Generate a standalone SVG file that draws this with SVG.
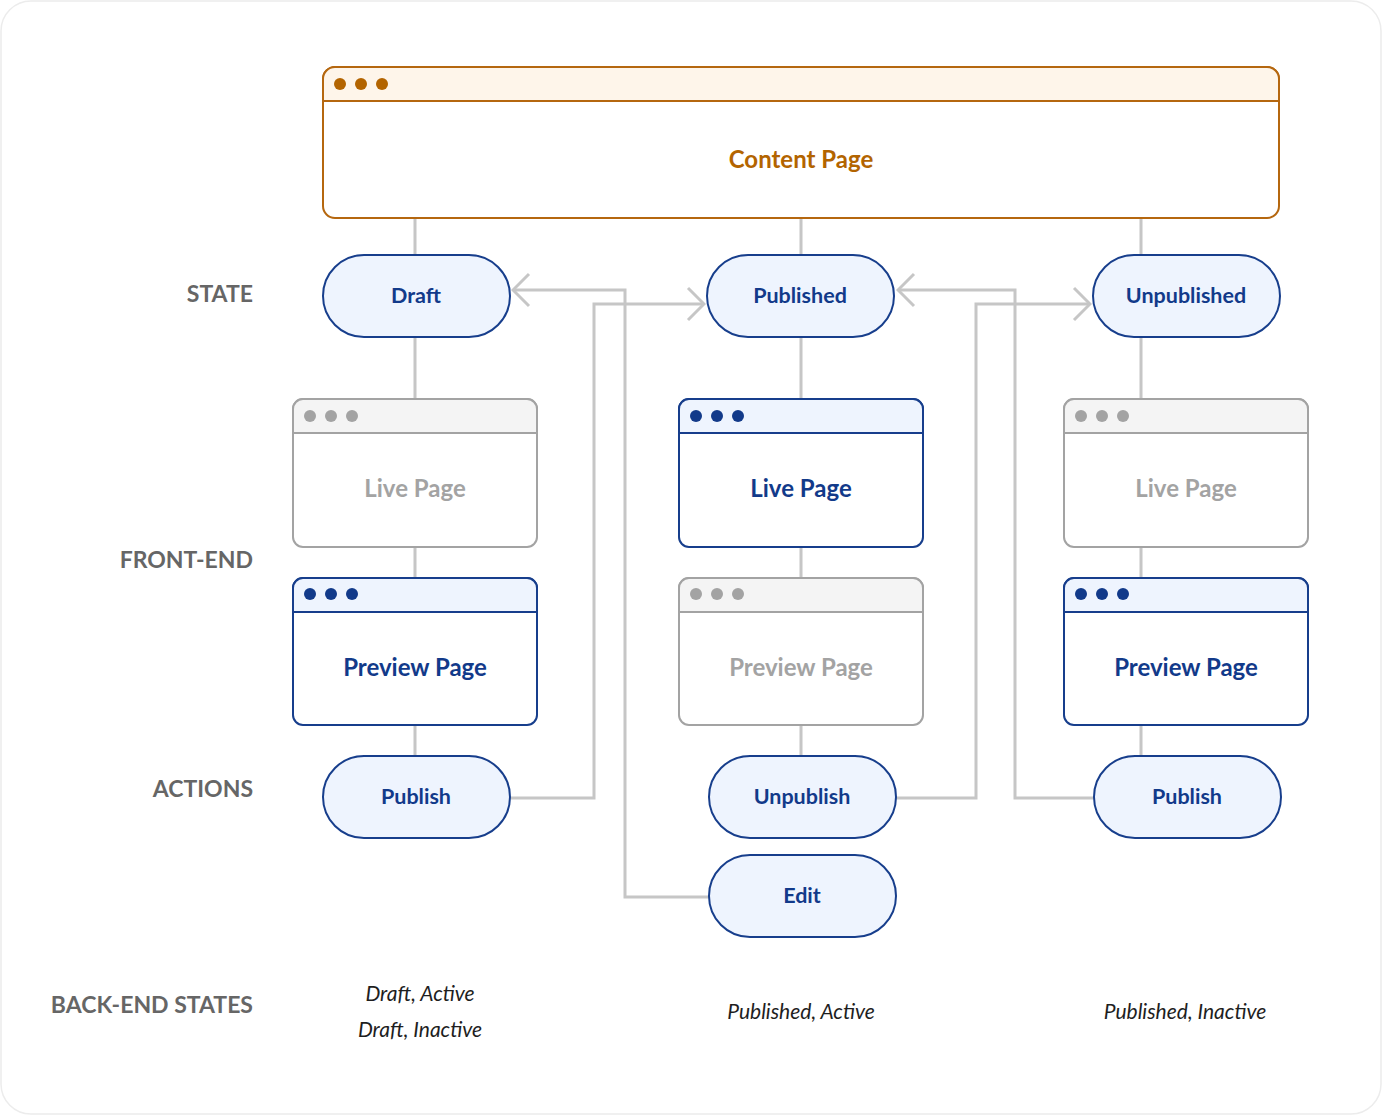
<svg xmlns="http://www.w3.org/2000/svg" width="1382" height="1115" viewBox="0 0 1382 1115">
  <style>
    .bg { fill: #ffffff; stroke: #ececec; stroke-width: 1.5; }
    .wire { fill: none; stroke: #c6c6c6; stroke-width: 3; }
    .pill { fill: #eef4fe; stroke: #173e8c; stroke-width: 2; }
    .pill-t { font-family: Lato, "Open Sans", sans-serif; font-weight: 700; font-size: 21.5px; fill: #123a8a; text-anchor: middle; }
    .win-on { fill: #ffffff; stroke: #173e8c; stroke-width: 2; }
    .bar-on { fill: #eef4fe; stroke: #173e8c; stroke-width: 2; }
    .dot-on { fill: #123a8a; }
    .win-off { fill: #ffffff; stroke: #a3a3a3; stroke-width: 2; }
    .bar-off { fill: #f4f4f4; stroke: #a3a3a3; stroke-width: 2; }
    .dot-off { fill: #a3a3a3; }
    .win-t-on { font-family: Lato, "Open Sans", sans-serif; font-weight: 700; font-size: 24px; fill: #123a8a; text-anchor: middle; }
    .win-t-off { font-family: Lato, "Open Sans", sans-serif; font-weight: 700; font-size: 24px; fill: #a3a3a3; text-anchor: middle; }
    .row { font-family: Lato, "Open Sans", sans-serif; font-weight: 700; font-size: 23px; fill: #666666; text-anchor: end; }
    .be { font-family: Lato, "Open Sans", sans-serif; font-style: italic; font-size: 21px; fill: #1e1e1e; text-anchor: middle; }
  </style>
  <defs>
    <!-- open chevron arrowhead -->
    <marker id="chev" viewBox="0 0 20 36" refX="18" refY="18" markerWidth="20" markerHeight="36" markerUnits="userSpaceOnUse" orient="auto">
      <path d="M2 2 L18 18 L2 34" fill="none" stroke="#c6c6c6" stroke-width="3"/>
    </marker>
  </defs>

  <rect class="bg" x="1" y="1" width="1380" height="1113" rx="30"/>

  <!-- row labels -->
  <text class="row" x="253" y="302">STATE</text>
  <text class="row" x="253" y="568">FRONT-END</text>
  <text class="row" x="253" y="797">ACTIONS</text>
  <text class="row" x="253" y="1013">BACK-END STATES</text>

  <!-- connectors -->
  <g id="connectors">
    <!-- tree links -->
    <path class="wire" d="M415 218 V255 M801 218 V255 M1141 218 V255"/>
    <path class="wire" d="M415 337 V399 M801 337 V399 M1141 337 V399"/>
    <path class="wire" d="M415 547 V578 M801 547 V578 M1141 547 V578"/>
    <path class="wire" d="M415 725 V756 M801 725 V756 M1141 725 V756"/>
    <!-- transitions -->
    <path class="wire" d="M510 798 H594 V304 H704" marker-end="url(#chev)"/>
    <path class="wire" d="M709 897 H625 V290 H513" marker-end="url(#chev)"/>
    <path class="wire" d="M896 798 H976 V304 H1090" marker-end="url(#chev)"/>
    <path class="wire" d="M1094 798 H1015 V290 H898" marker-end="url(#chev)"/>
  </g>

  <!-- content page window -->
  <g id="content-page">
    <rect x="323" y="67" width="956" height="151" rx="12" fill="#ffffff" stroke="#b5670f" stroke-width="2"/>
    <path d="M323 101 V79 A12 12 0 0 1 335 67 H1267 A12 12 0 0 1 1279 79 V101 Z" fill="#fef5ea" stroke="#b5670f" stroke-width="2"/>
    <circle cx="340" cy="84" r="6" fill="#b36400"/>
    <circle cx="361" cy="84" r="6" fill="#b36400"/>
    <circle cx="382" cy="84" r="6" fill="#b36400"/>
    <text x="801" y="168" font-family="Lato, 'Open Sans', sans-serif" font-weight="700" font-size="24" fill="#b36400" text-anchor="middle">Content Page</text>
  </g>

  <!-- state pills -->
  <g id="state-draft">
    <rect class="pill" x="323" y="255" width="187" height="82" rx="41"/>
    <text class="pill-t" x="416" y="303">Draft</text>
  </g>
  <g id="state-published">
    <rect class="pill" x="707" y="255" width="187" height="82" rx="41"/>
    <text class="pill-t" x="800" y="303">Published</text>
  </g>
  <g id="state-unpublished">
    <rect class="pill" x="1093" y="255" width="187" height="82" rx="41"/>
    <text class="pill-t" x="1186" y="303">Unpublished</text>
  </g>

  <!-- live pages -->
  <g id="live-draft">
    <rect class="win-off" x="293" y="399" width="244" height="148" rx="10"/>
    <path class="bar-off" d="M293 433 V409 A10 10 0 0 1 303 399 H527 A10 10 0 0 1 537 409 V433 Z"/>
    <circle class="dot-off" cx="310" cy="416" r="6"/>
    <circle class="dot-off" cx="331" cy="416" r="6"/>
    <circle class="dot-off" cx="352" cy="416" r="6"/>
    <text class="win-t-off" x="415" y="497">Live Page</text>
  </g>
  <g id="live-published">
    <rect class="win-on" x="679" y="399" width="244" height="148" rx="10"/>
    <path class="bar-on" d="M679 433 V409 A10 10 0 0 1 689 399 H913 A10 10 0 0 1 923 409 V433 Z"/>
    <circle class="dot-on" cx="696" cy="416" r="6"/>
    <circle class="dot-on" cx="717" cy="416" r="6"/>
    <circle class="dot-on" cx="738" cy="416" r="6"/>
    <text class="win-t-on" x="801" y="497">Live Page</text>
  </g>
  <g id="live-unpublished">
    <rect class="win-off" x="1064" y="399" width="244" height="148" rx="10"/>
    <path class="bar-off" d="M1064 433 V409 A10 10 0 0 1 1074 399 H1298 A10 10 0 0 1 1308 409 V433 Z"/>
    <circle class="dot-off" cx="1081" cy="416" r="6"/>
    <circle class="dot-off" cx="1102" cy="416" r="6"/>
    <circle class="dot-off" cx="1123" cy="416" r="6"/>
    <text class="win-t-off" x="1186" y="497">Live Page</text>
  </g>

  <!-- preview pages -->
  <g id="preview-draft">
    <rect class="win-on" x="293" y="578" width="244" height="147" rx="10"/>
    <path class="bar-on" d="M293 612 V588 A10 10 0 0 1 303 578 H527 A10 10 0 0 1 537 588 V612 Z"/>
    <circle class="dot-on" cx="310" cy="594" r="6"/>
    <circle class="dot-on" cx="331" cy="594" r="6"/>
    <circle class="dot-on" cx="352" cy="594" r="6"/>
    <text class="win-t-on" x="415" y="676">Preview Page</text>
  </g>
  <g id="preview-published">
    <rect class="win-off" x="679" y="578" width="244" height="147" rx="10"/>
    <path class="bar-off" d="M679 612 V588 A10 10 0 0 1 689 578 H913 A10 10 0 0 1 923 588 V612 Z"/>
    <circle class="dot-off" cx="696" cy="594" r="6"/>
    <circle class="dot-off" cx="717" cy="594" r="6"/>
    <circle class="dot-off" cx="738" cy="594" r="6"/>
    <text class="win-t-off" x="801" y="676">Preview Page</text>
  </g>
  <g id="preview-unpublished">
    <rect class="win-on" x="1064" y="578" width="244" height="147" rx="10"/>
    <path class="bar-on" d="M1064 612 V588 A10 10 0 0 1 1074 578 H1298 A10 10 0 0 1 1308 588 V612 Z"/>
    <circle class="dot-on" cx="1081" cy="594" r="6"/>
    <circle class="dot-on" cx="1102" cy="594" r="6"/>
    <circle class="dot-on" cx="1123" cy="594" r="6"/>
    <text class="win-t-on" x="1186" y="676">Preview Page</text>
  </g>

  <!-- action pills -->
  <g id="action-publish-draft">
    <rect class="pill" x="323" y="756" width="187" height="82" rx="41"/>
    <text class="pill-t" x="416" y="804">Publish</text>
  </g>
  <g id="action-unpublish">
    <rect class="pill" x="709" y="756" width="187" height="82" rx="41"/>
    <text class="pill-t" x="802" y="804">Unpublish</text>
  </g>
  <g id="action-edit">
    <rect class="pill" x="709" y="855" width="187" height="82" rx="41"/>
    <text class="pill-t" x="802" y="903">Edit</text>
  </g>
  <g id="action-publish-unpublished">
    <rect class="pill" x="1094" y="756" width="187" height="82" rx="41"/>
    <text class="pill-t" x="1187" y="804">Publish</text>
  </g>

  <!-- back-end states -->
  <text class="be" x="420" y="1001">Draft, Active</text>
  <text class="be" x="420" y="1037">Draft, Inactive</text>
  <text class="be" x="801" y="1019">Published, Active</text>
  <text class="be" x="1185" y="1019">Published, Inactive</text>
</svg>
